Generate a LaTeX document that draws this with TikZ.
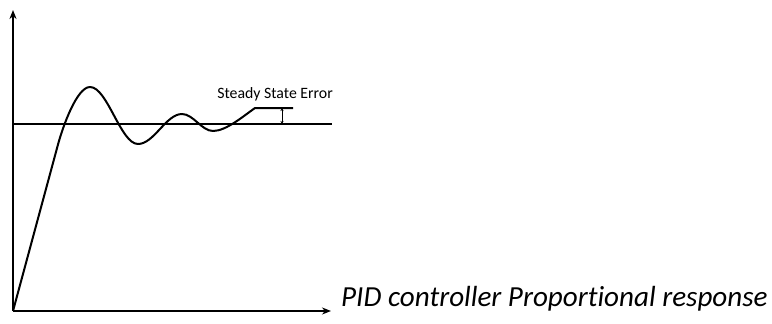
\documentclass[tikz,border=0pt]{standalone}
\usepackage{fontspec}
\setmainfont{Carlito}[Ligatures=NoCommon]
\usetikzlibrary{arrows.meta}

\tikzset{
  axis/.style={line width=1.6pt, -{Stealth[length=9pt,width=7pt]}},
  curve/.style={line width=2pt, line join=round},
  errtick/.style={line width=0.6pt, {Stealth[length=3pt,width=3pt]}-{Stealth[length=3pt,width=3pt]}}
}

\begin{document}
\begin{tikzpicture}[x=1pt,y=-1pt]
    \useasboundingbox (0,0) rectangle (772,324);
    % Axes
    \coordinate (origin) at (13,311);
    \coordinate (ytop) at (13,10);
    \coordinate (xend) at (331,311);
    \draw[axis] (origin) -- (ytop);
    \draw[axis] (origin) -- (xend);
    \node[anchor=base west, inner sep=0pt, font=\fontsize{29.1}{34}\selectfont\itshape] (xlabel) at (341,306) {PID controller Proportional response};

    % Set point
    \draw[line width=1.8pt] (13,124) -- (332,124);

    % Response: ramp, damped swings, then settles above the set point
    \draw[curve] (origin) -- (58,144.5)
        .. controls (63,126) and (77,87) .. (90,87)
        .. controls (107.4,87) and (120.6,144) .. (138,144)
        .. controls (154,144) and (166,114) .. (182,114)
        .. controls (193.3,114) and (201.7,131) .. (213,131)
        .. controls (226,131) and (243,116.4) .. (255,108)
        -- (293,108);

    % Steady state error
    \coordinate (errtop) at (282,108);
    \coordinate (errbot) at (282,124);
    \draw[errtick] (errtop) -- (errbot);
    \node[anchor=base, inner sep=0pt, font=\fontsize{15.8}{18}\selectfont] (errlabel) at (275,98) {Steady State Error};
\end{tikzpicture}
\end{document}
